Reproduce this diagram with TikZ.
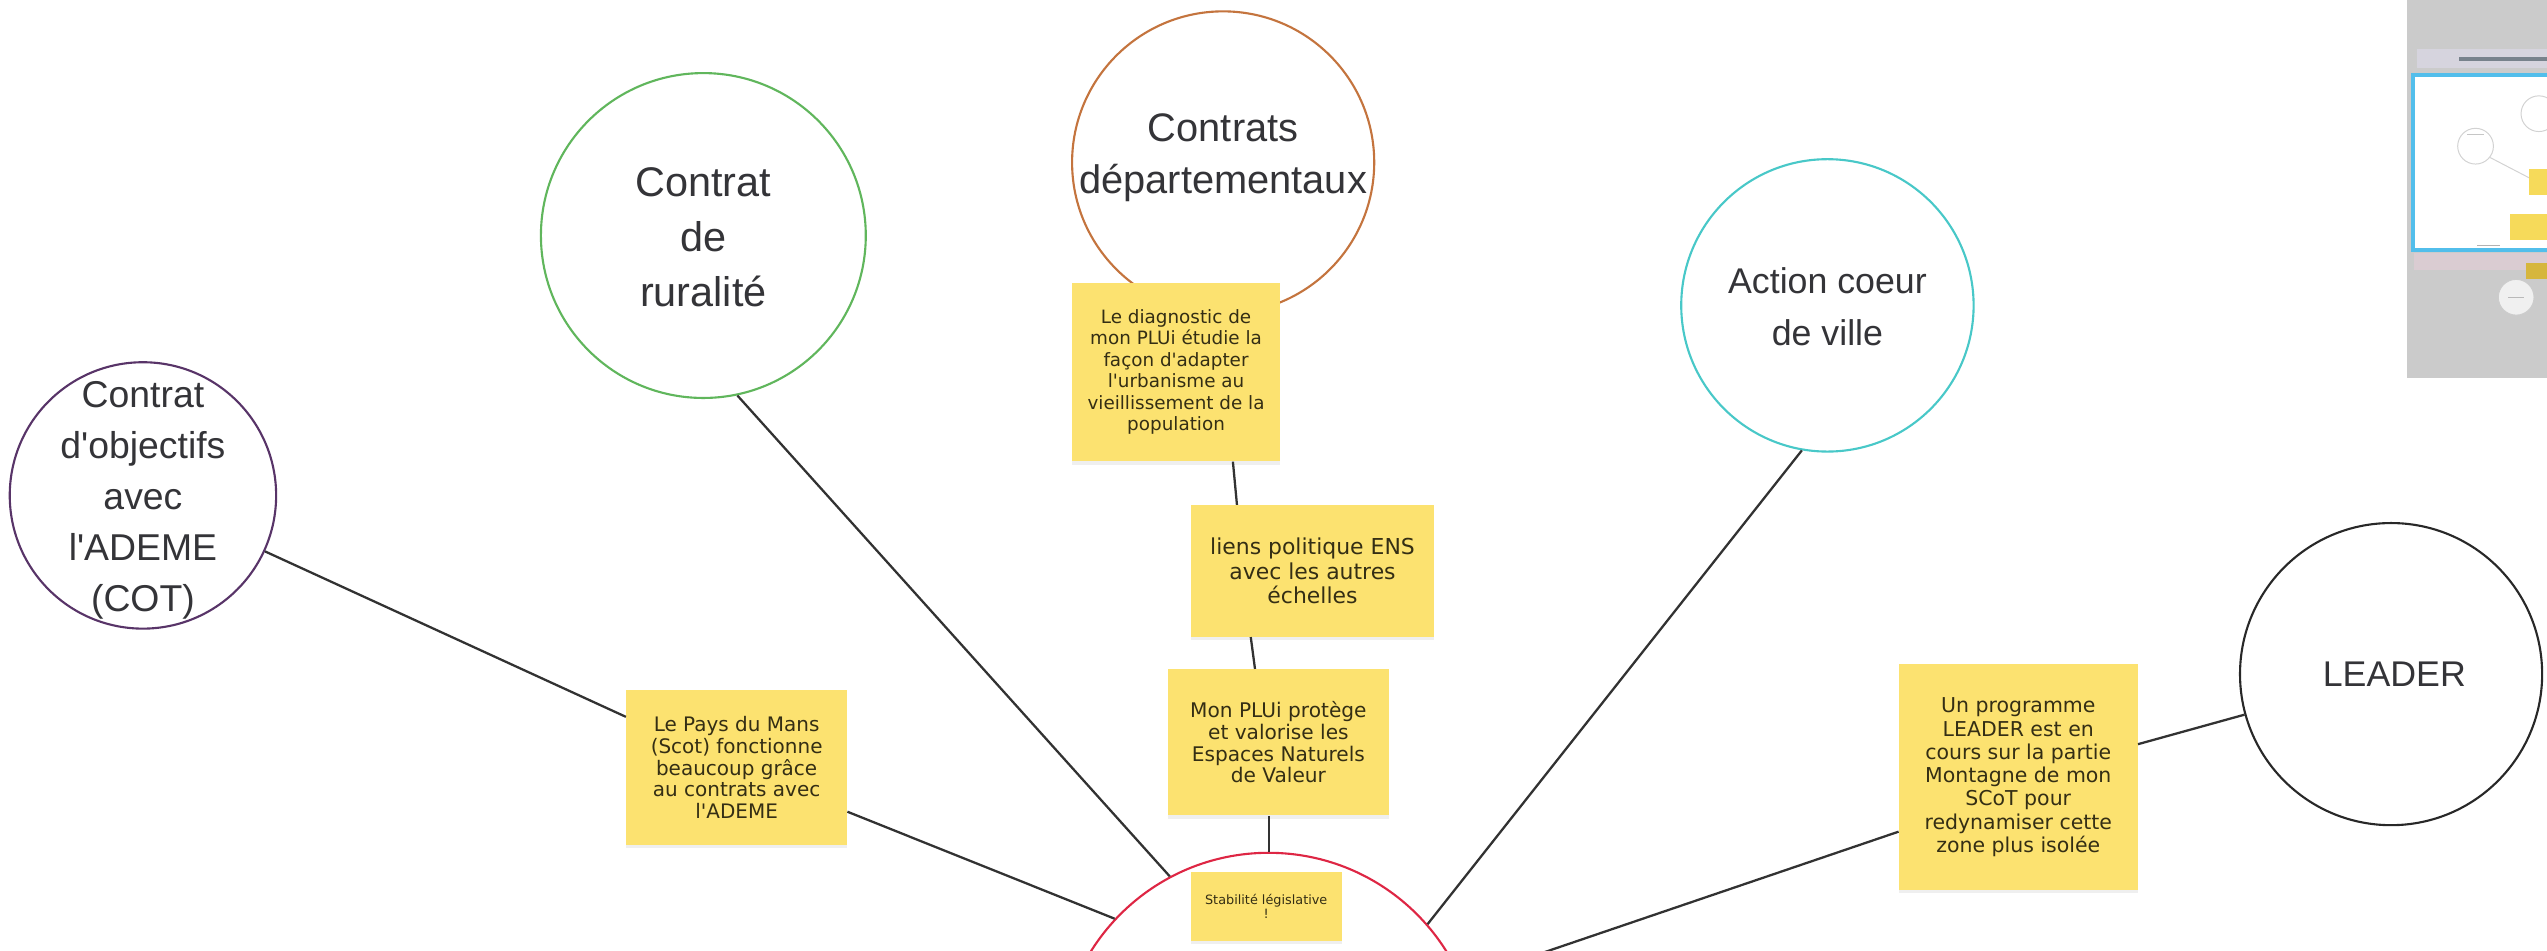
\documentclass[tikz,border=0pt]{standalone}
\usepackage{fontspec}
\setmainfont{Liberation Sans}
\newfontfamily\notefont{DejaVu Sans}
\usetikzlibrary{shadows}
\definecolor{cobj}{RGB}{88,52,104}
\definecolor{crur}{RGB}{96,182,92}
\definecolor{cdep}{RGB}{196,116,62}
\definecolor{cacv}{RGB}{72,200,200}
\definecolor{cldr}{RGB}{40,40,40}
\definecolor{cred}{RGB}{222,38,68}
\definecolor{sticky}{RGB}{252,226,112}
\definecolor{txt}{RGB}{52,52,56}
\definecolor{stxt}{RGB}{52,46,20}
\definecolor{wirec}{RGB}{50,50,50}
\definecolor{mapgray}{RGB}{203,203,203}
\definecolor{mapblue}{RGB}{82,190,235}
\definecolor{mapline}{RGB}{120,130,140}
\definecolor{mapband}{RGB}{214,212,222}
\definecolor{mappink}{RGB}{218,204,210}
\definecolor{mapyel}{RGB}{246,218,90}
\definecolor{mapyeld}{RGB}{214,182,60}
\begin{document}
\begin{tikzpicture}[x=1pt,y=-1pt,
  bubble/.style={circle,draw,line width=1.3pt,inner sep=0pt},
  ctext/.style={align=center,text=txt,inner sep=0pt},
  note/.style={rectangle,fill=sticky,inner sep=0pt,align=center,text=stxt,
    drop shadow={shadow xshift=0pt,shadow yshift=-2pt,opacity=0.12}},
  wire/.style={draw=wirec,line width=1.4pt}]
\useasboundingbox (0,0) rectangle (1568,585);
\clip (0,0) rectangle (1568,585);
\fill[white] (0,0) rectangle (1568,585);

% --- topic circles ---
\node[bubble,draw=cobj,minimum size=164pt] (c1) at (88,305) {};
\node[ctext,font=\fontsize{23}{31.5}\selectfont] (c1t) at (88,308)
  {Contrat\\d\textquotesingle objectifs\\avec\\l\textquotesingle ADEME\\(COT)};

\node[bubble,draw=crur,minimum size=200pt] (c2) at (433,145) {};
\node[ctext,font=\fontsize{25.5}{34}\selectfont] (c2t) at (433,146)
  {Contrat\\de\\ruralité};

\node[bubble,draw=cdep,minimum size=186pt] (c3) at (753,100) {};
\node[ctext,font=\fontsize{24.5}{32}\selectfont] (c3t) at (753,97)
  {Contrats\\départementaux};

\node[bubble,draw=cacv,minimum size=180pt] (c4) at (1125,188) {};
\node[ctext,font=\fontsize{22}{32}\selectfont] (c4t) at (1125,189)
  {Action coeur\\de ville};

\node[bubble,draw=cldr,minimum size=186pt] (c5) at (1472,415) {};
\node[ctext,font=\fontsize{22}{32}\selectfont] (c5t) at (1474,415) {LEADER};

\node[bubble,draw=cred,minimum size=258pt] (red) at (781,654) {};

% --- sticky notes ---
\node[note,minimum width=136pt,minimum height=95pt,
  font=\notefont\fontsize{12.3}{13.3}\selectfont] (n1) at (453.5,472.5)
  {Le Pays du Mans\\(Scot) fonctionne\\beaucoup grâce\\au contrats avec\\l\textquotesingle ADEME};

\node[note,minimum width=128pt,minimum height=110pt,
  font=\notefont\fontsize{11.3}{13.2}\selectfont] (n2) at (724,229)
  {Le diagnostic de\\mon PLUi étudie la\\façon d\textquotesingle adapter\\l\textquotesingle urbanisme au\\vieillissement de la\\population};

\node[note,minimum width=150pt,minimum height=81pt,
  font=\notefont\fontsize{13.5}{15.3}\selectfont] (n3) at (808,351.5)
  {liens politique ENS\\avec les autres\\échelles};

\node[note,minimum width=136pt,minimum height=90pt,
  font=\notefont\fontsize{12.4}{13.3}\selectfont] (n4) at (787,457)
  {Mon PLUi protège\\et valorise les\\Espaces Naturels\\de Valeur};

\node[note,minimum width=93pt,minimum height=42pt,
  font=\notefont\fontsize{7.9}{8.5}\selectfont] (n5) at (779.5,558)
  {Stabilité législative\\!};

\node[note,minimum width=147pt,minimum height=139pt,
  font=\notefont\fontsize{12.6}{14.3}\selectfont] (n6) at (1242.5,478.5)
  {Un programme\\LEADER est en\\cours sur la partie\\Montagne de mon\\SCoT pour\\redynamiser cette\\zone plus isolée};

% --- connectors ---
\draw[wire] (c1) -- (n1);
\draw[wire] (n1) -- (red.137);
\draw[wire] (c2.-78) -- (red.118);
\draw[wire] ([xshift=35pt]n2.south) -- ([xshift=-46.5pt]n3.north);
\draw[wire] ([xshift=-38pt]n3.south) -- ([xshift=-14.4pt]n4.north);
\draw[wire] ([xshift=-6pt]n4.south) -- (red.north);
\draw[wire] (c4.-100) -- (red.41);
\draw[wire] ([yshift=-33.5pt]n6.west) -- (red.23.5);
\draw[wire] (n6) -- (c5);

% --- overview map (top right) ---
\fill[mapgray] (1482,0) rectangle (1568,233);
\fill[mapband] (1488,30) rectangle (1568,42);
\draw[mapline,line width=2.2pt] (1514,36.5) -- (1570,36.5);
\fill[white] (1484,45) rectangle (1570,155);
\draw[mapblue,line width=2.6pt] (1485.3,46.3) rectangle (1575,154);
\draw[gray!35,line width=0.6pt] (1524,90) circle (11pt);
\draw[gray!45,line width=0.5pt] (1519,83) -- (1529,83);
\draw[gray!35,line width=0.6pt] (1563,70) circle (11pt);
\draw[gray!35,line width=0.6pt] (1533,97) -- (1558,110);
\fill[mapyel] (1557,104) rectangle (1570,120);
\fill[mapyel] (1545,132) rectangle (1570,148);
\draw[gray!60,line width=0.6pt] (1525,151) -- (1539,151);
\fill[mappink] (1486,156) rectangle (1568,166);
\fill[mapyeld] (1555,162) rectangle (1570,172);
\draw[gray!40,fill=gray!12,line width=0.6pt] (1549,183) circle (11pt);
\draw[gray!55,line width=0.5pt] (1544,183) -- (1554,183);
\end{tikzpicture}
\end{document}
